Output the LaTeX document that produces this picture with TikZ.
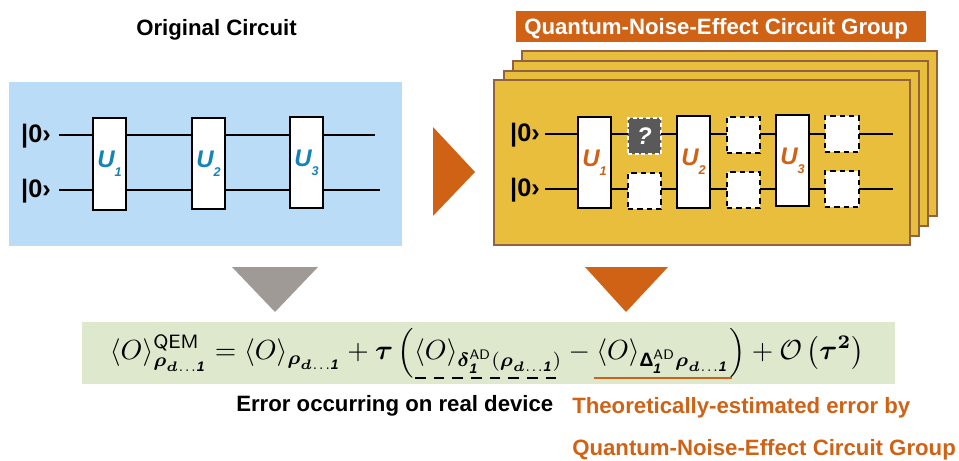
\documentclass[tikz,border=0pt]{standalone}
\usepackage{amsmath,amssymb}
\usepackage{fontspec}
\setmainfont{Liberation Sans}
\definecolor{panelblue}{HTML}{BBDCF6}
\definecolor{gold}{HTML}{E9BE3C}
\definecolor{goldedge}{HTML}{95623F}
\definecolor{rust}{HTML}{D06216}
\definecolor{ublue}{HTML}{1384B4}
\definecolor{band}{HTML}{DEE8CC}
\definecolor{darkq}{HTML}{595959}
\definecolor{arrowgray}{HTML}{A09A96}
\newcommand{\fs}[1]{\fontsize{#1}{#1}\selectfont}
\newcommand{\ulab}[2]{\textcolor{#1}{\bfseries\itshape\fs{18pt}U\raisebox{-6.5pt}{\fs{9.5pt}#2}}}
\newcommand{\bx}[6]{\node[#6, minimum width={(#4-#2)*0.75pt}, minimum height={(#5-#3)*0.75pt}] (#1) at ({(#2+#4)/2},{(#3+#5)/2})}
\newcommand{\bi}[1]{\boldsymbol{#1}}
\newcommand{\one}{\text{\bfseries\itshape 1}}
\newcommand{\rhos}{\bi{\rho}_{\bi{d}\ldots\one}}
\tikzset{
  x=0.75pt,y=-0.75pt,
  gate/.style={draw=black,line width=1.1pt,fill=white,inner sep=0pt,outer sep=0pt},
  noise/.style={draw=black,line width=1.1pt,dash pattern=on 4pt off 3pt,fill=white,inner sep=0pt,outer sep=0pt},
  noiseq/.style={draw=white,line width=1pt,dash pattern=on 3pt off 2pt,fill=darkq,inner sep=0pt,outer sep=0pt,text=white},
  sheet/.style={draw=goldedge,line width=1.2pt,fill=gold,inner sep=0pt,outer sep=0pt},
  wire/.style={draw=black,line width=1.3pt},
  ket/.style={font=\bfseries\fs{19pt},inner sep=0pt},
  lbl/.style={font=\bfseries\fs{16.65pt},inner sep=0pt,anchor=west},
}
\begin{document}
\begin{tikzpicture}
\useasboundingbox (0,0) rectangle (959,460);
% left panel
\bx{lp}{9}{82}{402}{246}{fill=panelblue,inner sep=0pt} {};
\node[lbl,anchor=center] (otitle) at (216.5,30) {Original Circuit};
\node[ket] (k1) at (36,136) {|0›};
\node[ket] (k2) at (36,191) {|0›};
\coordinate (ls1) at (59,135);
\coordinate (ls2) at (59,190);
\coordinate (le1) at (375,134);
\coordinate (le2) at (380,190);
\bx{a1}{93}{118}{126}{210}{gate} {\ulab{ublue}{1}};
\bx{a2}{192}{118}{225}{209}{gate} {\ulab{ublue}{2}};
\bx{a3}{290}{117}{323}{208}{gate} {\ulab{ublue}{3}};
\draw[wire] (ls1) -- (a1.west|-ls1) (a1.east|-ls1) -- (a2.west|-ls1) (a2.east|-ls1) -- (a3.west|-ls1) (a3.east|-ls1) -- (le1|-ls1);
\draw[wire] (ls2) -- (a1.west|-ls2) (a1.east|-ls2) -- (a2.west|-ls2) (a2.east|-ls2) -- (a3.west|-ls2) (a3.east|-ls2) -- (le2);
% right sheets
\bx{s4}{522}{51}{937}{216}{sheet} {};
\bx{s3}{513}{61}{928}{226}{sheet} {};
\bx{s2}{504}{71}{919}{236}{sheet} {};
\bx{s1}{494}{80}{910}{245}{sheet} {};
\bx{title}{516}{11}{926}{42}{fill=rust,inner sep=0pt} {};
\node[lbl,text=white] (ttext) at (524,29) {Quantum-Noise-Effect Circuit Group};
\node[ket] (k3) at (525,135) {|0›};
\node[ket] (k4) at (525,190) {|0›};
\coordinate (rs1) at (545,134);
\coordinate (rs2) at (545,189);
\coordinate (re1) at (893,134);
\coordinate (re2) at (893,189);
\bx{b1}{578}{117}{611}{208}{gate} {\ulab{rust}{1}};
\bx{b2}{677}{116}{710}{208}{gate} {\ulab{rust}{2}};
\bx{b3}{776}{115}{809}{206}{gate} {\ulab{rust}{3}};
\bx{n1}{628}{118}{661}{154}{noiseq} {\bfseries\itshape\fs{18pt}?};
\bx{n2}{628}{173}{661}{209}{noise} {};
\bx{n3}{727}{117}{760}{153}{noise} {};
\bx{n4}{727}{172}{760}{208}{noise} {};
\bx{n5}{825}{116}{859}{152}{noise} {};
\bx{n6}{825}{171}{859}{207}{noise} {};
\draw[wire] (rs1) -- (b1.west|-rs1) (b1.east|-rs1) -- (n1.west|-rs1) (n1.east|-rs1) -- (b2.west|-rs1) (b2.east|-rs1) -- (n3.west|-rs1) (n3.east|-rs1) -- (b3.west|-rs1) (b3.east|-rs1) -- (n5.west|-rs1) (n5.east|-rs1) -- (re1);
\draw[wire] (rs2) -- (b1.west|-rs2) (b1.east|-rs2) -- (n2.west|-rs2) (n2.east|-rs2) -- (b2.west|-rs2) (b2.east|-rs2) -- (n4.west|-rs2) (n4.east|-rs2) -- (b3.west|-rs2) (b3.east|-rs2) -- (n6.west|-rs2) (n6.east|-rs2) -- (re2);
% arrows
\fill[rust] (433,127) -- (475,172) -- (433,216) -- cycle;
\fill[arrowgray] (232,267) -- (318,267) -- (275,312) -- cycle;
\fill[rust] (585,267) -- (668,267) -- (626,312) -- cycle;
% formula band
\bx{bandn}{82}{322}{895}{384}{fill=band,inner sep=0pt} {};
\node[inner sep=0pt,scale=2.07] (eq) at (487,353) {$\displaystyle
  \langle O\rangle^{\mathsf{QEM}}_{\rhos}
  = \langle O\rangle_{\rhos}
  + \bi{\tau}\left(\langle O\rangle_{\bi{\delta}^{\mathsf{AD}}_{\one}(\rhos)}
  - \langle O\rangle_{\text{\bfseries Δ}^{\mathsf{AD}}_{\one}\rhos}\right)
  + \mathcal{O}\left(\bi{\tau}^{\bi{2}}\right)$};
\coordinate (d1) at (415,378);
\coordinate (d2) at (556,378);
\coordinate (o1) at (594,378);
\coordinate (o2) at (732,378);
\draw[black,line width=1.1pt,dash pattern=on 8pt off 6pt] (d1) -- (d2);
\draw[rust,line width=1.8pt] (o1) -- (o2);
\node[lbl] (err) at (236,406) {Error occurring on real device};
\node[lbl,text=rust] (th1) at (572,408) {Theoretically-estimated error by};
\node[lbl,text=rust] (th2) at (572,450) {Quantum-Noise-Effect Circuit Group};
\end{tikzpicture}
\end{document}
